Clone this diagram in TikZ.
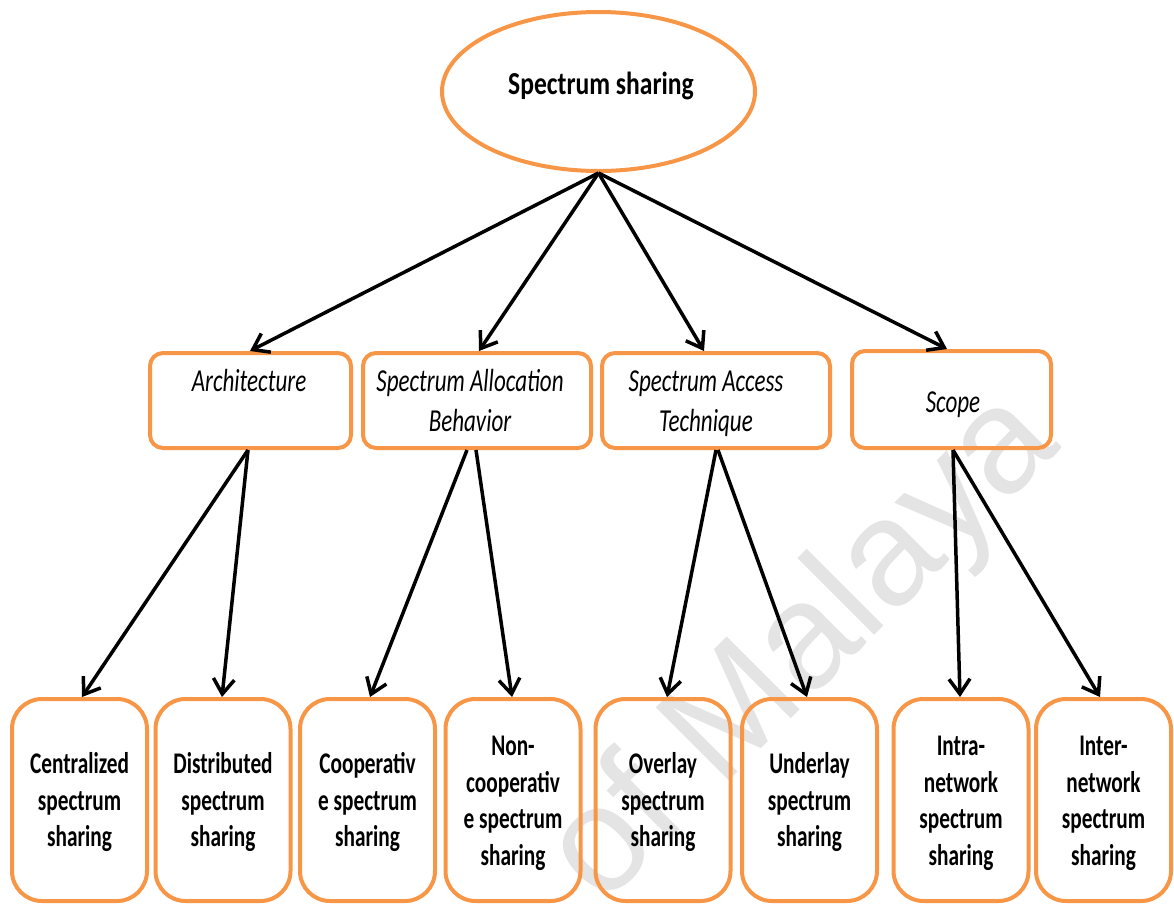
\documentclass[tikz,border=0pt]{standalone}
\usepackage{fontspec}
\setmainfont{Carlito}
\newfontfamily\wmfont{Liberation Sans}
\usetikzlibrary{arrows.meta,shapes.geometric}
\definecolor{accent}{RGB}{247,150,70}
\definecolor{wmgray}{RGB}{228,228,228}

% condensed, centred multi-line label, lowered by #3 without changing its box
\newcommand{\narrowtext}[3][0pt]{\raisebox{-#1}[\height][\depth]{\scalebox{#2}[1]{\begin{tabular}{@{}c@{}}#3\end{tabular}}}}

\begin{document}
\begin{tikzpicture}[x=1pt,y=-1pt,
  rootshape/.style={draw=accent,line width=4pt,ellipse,minimum width=313pt,minimum height=159pt,inner sep=0pt},
  midbox/.style={draw=accent,line width=4pt,rectangle,rounded corners=13pt,minimum height=95pt,minimum width=#1,inner sep=0pt},
  leafbox/.style={draw=accent,line width=4pt,rectangle,rounded corners=30pt,minimum width=135pt,minimum height=202pt,inner sep=0pt,
    font=\fontsize{30}{36.5}\selectfont\bfseries},
  midtext/.style={inner sep=0pt,font=\fontsize{32}{40}\selectfont\itshape},
  conn/.style={draw=black,line width=3.5pt,-{Straight Barb[length=15pt,width=21pt,line width=3.5pt]}}
]
\useasboundingbox (0,0) rectangle (1174,905);

% watermark
\node[inner sep=0pt,rotate=45,text=wmgray,font=\wmfont\fontsize{150}{150}\selectfont] (wm) at (805,650) {of Malaya};

% root
\node[rootshape] (root) at (598.5,91.5) {};
\node[inner sep=0pt,font=\fontsize{32}{38}\selectfont\bfseries] (rootlbl) at (601,86) {\scalebox{0.8}[1]{Spectrum sharing}};

% categories
\node[midbox=201pt] (m1) at (250.5,400.5) {};
\node[midbox=228pt] (m2) at (477,400.5) {};
\node[midbox=228pt] (m3) at (716,400.5) {};
\node[midbox=199pt,minimum height=97pt] (m4) at (951.5,399.5) {};

\node[midtext] (t1) at (249,403) {\narrowtext{0.72}{Architecture\\ \mbox{}}};
\node[midtext] (t2) at (470,403) {\narrowtext{0.72}{Spectrum Allocation\\Behavior}};
\node[midtext] (t3) at (706,403) {\narrowtext{0.72}{Spectrum Access\\Technique}};
\node[midtext] (t4) at (953,404) {\narrowtext{0.72}{Scope}};

% leaves
\node[leafbox] (b1) at (79.5,800) {\narrowtext[3pt]{0.71}{Centralized\\spectrum\\sharing}};
\node[leafbox] (b2) at (223,800) {\narrowtext[3pt]{0.71}{Distributed\\spectrum\\sharing}};
\node[leafbox] (b3) at (367.5,800) {\narrowtext[3pt]{0.71}{Cooperativ\\e spectrum\\sharing}};
\node[leafbox] (b4) at (513,800) {\narrowtext[3pt]{0.71}{Non-\\cooperativ\\e spectrum\\sharing}};
\node[leafbox] (b5) at (663,800) {\narrowtext[3pt]{0.71}{Overlay\\spectrum\\sharing}};
\node[leafbox] (b6) at (809.5,800) {\narrowtext[3pt]{0.71}{Underlay\\spectrum\\sharing}};
\node[leafbox] (b7) at (961,800) {\narrowtext[3pt]{0.71}{Intra-\\network\\spectrum\\sharing}};
\node[leafbox] (b8) at (1103.5,800) {\narrowtext[3pt]{0.71}{Inter-\\network\\spectrum\\sharing}};

% root to categories
\draw[conn] (root.south) -- ([xshift=-0.5pt]m1.north);
\draw[conn] (root.south) -- ([xshift=2pt]m2.north);
\draw[conn] (root.south) -- ([xshift=-12pt]m3.north);
\draw[conn] (root.south) -- ([xshift=-4.5pt]m4.north);

% categories to leaves
\draw[conn] ([xshift=-2.5pt]m1.south) -- ([xshift=2.5pt]b1.north);
\draw[conn] ([xshift=-2.5pt]m1.south) -- ([xshift=-1pt]b2.north);
\draw[conn] ([xshift=-10pt]m2.south) -- ([xshift=2.5pt]b3.north);
\draw[conn] ([xshift=-1pt]m2.south) -- ([xshift=-1pt]b4.north);
\draw[conn] ([xshift=0pt]m3.south) -- ([xshift=4pt]b5.north);
\draw[conn] ([xshift=2pt]m3.south) -- ([xshift=-2.5pt]b6.north);
\draw[conn] ([xshift=1.5pt]m4.south) -- ([xshift=-1pt]b7.north);
\draw[conn] ([xshift=1.5pt]m4.south) -- ([xshift=-3.5pt]b8.north);
\end{tikzpicture}
\end{document}
